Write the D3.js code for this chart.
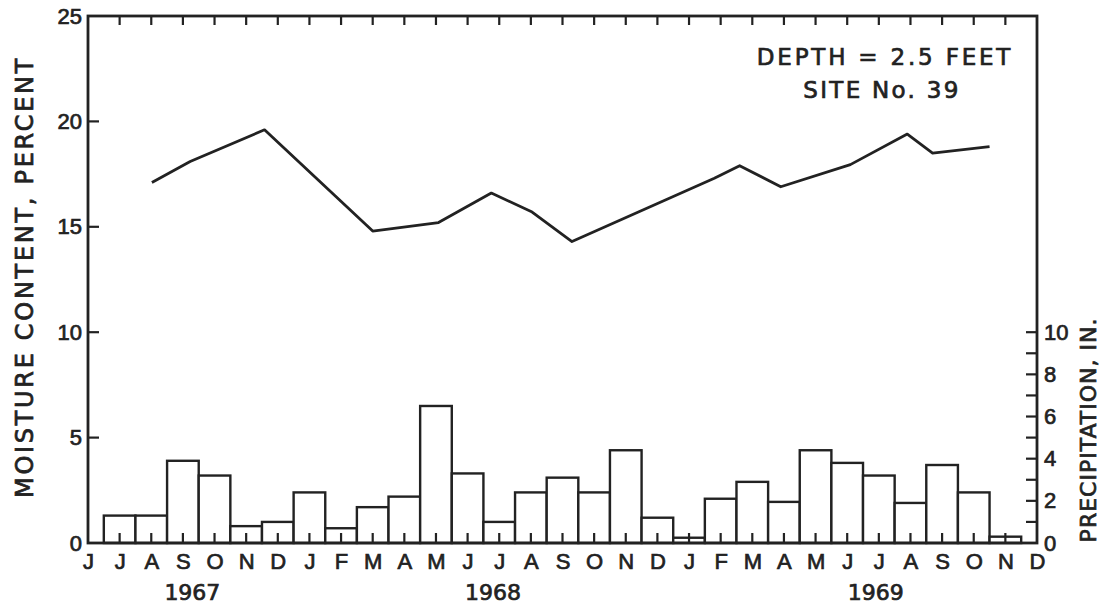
<!DOCTYPE html>
<html>
<head>
<meta charset="utf-8">
<script src="https://cdn.jsdelivr.net/npm/d3@7"></script>
<style>
  body { margin: 0; background: #fff; }
  svg { font-family: "DejaVu Sans", sans-serif; }
  text { stroke: #222; stroke-width: 0.7px; }
  .tick text { font-size: 22px; fill: #222; }
</style>
</head>
<body>
<div id="chart"></div>
<script>
// Soil moisture at 2.5 ft (site 39) with monthly precipitation bars.

// Month labels along the bottom, June 1967 through December 1969.
const months = ["J","J","A","S","O","N","D",
                "J","F","M","A","M","J","J","A","S","O","N","D",
                "J","F","M","A","M","J","J","A","S","O","N","D"];
// Year labels and where they sit (in months from June 1967).
const years = ["1967", "1968", "1969"];
const yearPos = [3.3, 12.8, 24.9];

// Monthly precipitation, inches, July 1967 .. November 1969.
const precipMonth = d3.range(1, 30);
const precip = [1.3, 1.3, 3.9, 3.2, 0.8, 1.0,
                2.4, 0.7, 1.7, 2.2, 6.5, 3.3, 1.0, 2.4, 3.1, 2.4, 4.4, 1.2,
                0.25, 2.1, 2.9, 1.95, 4.4, 3.8, 3.2, 1.9, 3.7, 2.4, 0.3];

// Moisture content, percent, sampled on irregular dates (months from June 1967).
const moistMonth = [2.02, 3.23, 5.58, 9.0, 11.08, 12.75, 14.04, 15.3,
                    19.8, 20.6, 21.9, 24.1, 25.9, 26.7, 28.5];
const moisture = [17.1, 18.1, 19.6, 14.8, 15.2, 16.6, 15.7, 14.3,
                  17.3, 17.9, 16.9, 17.95, 19.4, 18.5, 18.8];

const W = 1111, H = 606;
const mLeft = 88, mRight = 1037, mTop = 16, mBottom = 543;
const ink = "#222";

const svg = d3.select("#chart").append("svg")
    .attr("width", W).attr("height", H);

const x = d3.scaleLinear().domain([0, 30]).range([mLeft, mRight]);
const y = d3.scaleLinear().domain([0, 25]).range([mBottom, mTop]);
// precipitation axis shares the same scale (1 in = 1 percent)
const yP = d3.scaleLinear().domain([0, 10]).range([y(0), y(10)]);
const bw = x(1) - x(0);

// precipitation bars, centred on the month ticks
svg.append("g").selectAll("rect")
    .data(precip)
    .join("rect")
    .attr("x", (d, i) => x(precipMonth[i]) - bw / 2)
    .attr("y", d => yP(d))
    .attr("width", bw)
    .attr("height", d => yP(0) - yP(d))
    .attr("fill", "#fff")
    .attr("stroke", ink)
    .attr("stroke-width", 2.4);

// axis labels (ticks drawn separately below)
const gL = svg.append("g").attr("transform", `translate(${mLeft},0)`)
    .call(d3.axisLeft(y).tickValues([0, 5, 10, 15, 20, 25]).tickSize(0).tickPadding(6));
const gB = svg.append("g").attr("transform", `translate(0,${mBottom})`)
    .call(d3.axisBottom(x).tickValues(d3.range(31)).tickSize(0).tickPadding(10)
        .tickFormat(i => months[i]));
const gR = svg.append("g").attr("transform", `translate(${mRight},0)`)
    .call(d3.axisRight(yP).tickValues(d3.range(0, 11, 2)).tickSize(0).tickPadding(7));
[gL, gB, gR].forEach(g => g.select(".domain").remove());

// inward tick marks
const ticks = svg.append("g").attr("stroke", ink).attr("stroke-width", 2.2);
ticks.selectAll(".tb").data(d3.range(1, 30)).join("line").attr("class", "tb")
    .attr("x1", d => x(d)).attr("x2", d => x(d))
    .attr("y1", mBottom).attr("y2", mBottom - 10);
ticks.selectAll(".tt").data(d3.range(1, 30)).join("line").attr("class", "tt")
    .attr("x1", d => x(d)).attr("x2", d => x(d))
    .attr("y1", mTop).attr("y2", mTop + 9);
ticks.selectAll(".tl").data([5, 10, 15, 20]).join("line").attr("class", "tl")
    .attr("x1", mLeft).attr("x2", mLeft + 11)
    .attr("y1", d => y(d)).attr("y2", d => y(d));
ticks.selectAll(".tr").data(d3.range(1, 11)).join("line").attr("class", "tr")
    .attr("x1", mRight - 11).attr("x2", mRight)
    .attr("y1", d => yP(d)).attr("y2", d => yP(d));

// frame
svg.append("rect")
    .attr("x", mLeft).attr("y", mTop)
    .attr("width", mRight - mLeft).attr("height", mBottom - mTop)
    .attr("fill", "none").attr("stroke", ink).attr("stroke-width", 2.8);

// moisture line
svg.append("path")
    .datum(moisture)
    .attr("d", d3.line().x((d, i) => x(moistMonth[i])).y(d => y(d)))
    .attr("fill", "none")
    .attr("stroke", ink)
    .attr("stroke-width", 2.8)
    .attr("stroke-linejoin", "round");

// year labels
svg.append("g").selectAll("text")
    .data(years)
    .join("text")
    .attr("x", (d, i) => x(yearPos[i]))
    .attr("y", 600)
    .attr("text-anchor", "middle")
    .attr("font-size", 22)
    .attr("fill", ink)
    .text(d => d);

// axis titles
svg.append("text")
    .attr("transform", `translate(33,277) rotate(-90)`)
    .attr("text-anchor", "middle")
    .attr("font-size", 24)
    .attr("letter-spacing", 2.7)
    .attr("fill", ink)
    .text("MOISTURE CONTENT, PERCENT");

svg.append("text")
    .attr("transform", `translate(1096,430) rotate(-90)`)
    .attr("text-anchor", "middle")
    .attr("font-size", 22)
    .attr("letter-spacing", 1)
    .attr("fill", ink)
    .text("PRECIPITATION, IN.");

// site note
const note = svg.append("g").attr("text-anchor", "middle")
    .attr("font-size", 23).attr("fill", ink);
note.append("text").attr("x", 885).attr("y", 65)
    .attr("letter-spacing", 2.8).text("DEPTH = 2.5 FEET");
note.append("text").attr("x", 882).attr("y", 98)
    .attr("letter-spacing", 2.3).text("SITE No. 39");
</script>
</body>
</html>
